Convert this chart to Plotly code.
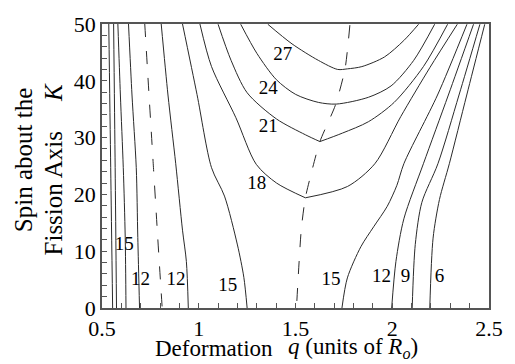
import plotly.graph_objects as go

# ---- contour lines: deformation q, spin K ----
q_left_a = [0.535, 0.545, 0.555]
K_left_a = [50, 24.7, 0]
q_left_b = [0.560, 0.568, 0.575]
K_left_b = [50, 24.7, 0]
q_left15 = [0.582, 0.595, 0.610, 0.620, 0.624]
K_left15 = [50, 37.5, 24.7, 12.4, 0]
q_left12 = [0.637, 0.655, 0.677, 0.685, 0.694]
K_left12 = [50, 37.5, 24.7, 12.4, 0]
q_dash_left = [0.721, 0.743, 0.766, 0.788, 0.811]
K_dash_left = [50, 37.5, 24.7, 12.4, 0]
q_mid12 = [0.806, 0.841, 0.881, 0.916, 0.936, 0.946]
K_mid12 = [50, 37.5, 25.4, 13.7, 8.2, 0]
q_mid15 = [0.916, 0.991, 1.066, 1.133, 1.200, 1.233, 1.250]
K_mid15 = [50, 37.6, 24.7, 19.7, 11.1, 5.4, 0]
q_c18_l = [1.006, 1.066, 1.192, 1.297, 1.402, 1.551]
K_c18_l = [50, 42.5, 33.5, 25.3, 22.0, 19.4]
q_c18_r = [1.551, 1.769, 1.910, 2.044, 2.194, 2.336]
K_c18_r = [19.4, 21.4, 25.4, 33.7, 42.3, 49.95]
q_c21_l = [1.100, 1.167, 1.250, 1.401, 1.551, 1.626]
K_c21_l = [49.95, 43.6, 37.9, 33.3, 30.5, 29.3]
q_c21_r = [1.626, 1.743, 1.877, 2.010, 2.161, 2.286]
K_c21_r = [29.3, 30.8, 32.8, 36.2, 42.5, 49.95]
q_c24 = [1.217, 1.301, 1.401, 1.501, 1.618, 1.710, 1.877, 1.994, 2.111, 2.219]
K_c24 = [49.95, 44.8, 40.2, 37.6, 36.2, 35.9, 37.1, 39.1, 43.6, 49.95]
q_c27 = [1.357, 1.482, 1.618, 1.718, 1.768, 1.843, 1.960, 2.060, 2.136]
K_c27 = [49.95, 46.5, 43.6, 42.0, 42.1, 42.5, 44.2, 47.1, 49.95]
q_right15 = [1.740, 1.768, 1.838, 1.904, 1.974, 2.024, 2.060, 2.234, 2.386]
K_right15 = [0, 5.3, 10.8, 14.3, 17.9, 21.6, 25.4, 37.5, 49.95]
q_right12 = [1.997, 2.019, 2.060, 2.161, 2.290, 2.420]
K_right12 = [0, 8.2, 15.7, 25.4, 37.5, 49.95]
q_right9 = [2.103, 2.119, 2.153, 2.236, 2.345, 2.453]
K_right9 = [0, 11.2, 18.6, 25.4, 37.5, 49.95]
q_right6 = [2.194, 2.211, 2.244, 2.295, 2.385, 2.478]
K_right6 = [0, 12.3, 19.1, 25.4, 37.5, 49.95]
q_dash_mid = [1.781, 1.756, 1.706, 1.626, 1.585, 1.551, 1.530, 1.505]
K_dash_mid = [49.8, 42.1, 35.7, 29.3, 24.2, 19.4, 13.9, 0]

label_text = ["27", "24", "21", "18", "15", "12", "12", "15", "15", "12", "9", "6"]
label_q = [1.434, 1.359, 1.359, 1.300, 0.615, 0.699, 0.882, 1.150, 1.684, 1.944, 2.069, 2.244]
label_K = [44.5, 38.5, 31.9, 21.7, 11.1, 4.8, 4.8, 3.8, 4.9, 5.4, 5.4, 5.4]

x_tickvals = [0.5, 1, 1.5, 2, 2.5]
x_ticktext = ["0.5", "1", "1.5", "2", "2.5"]
y_tickvals = [0, 10, 20, 30, 40, 50]

LINE = "#2a2a2a"
FONT = "Liberation Serif"

solid = [
    (q_left_a, K_left_a), (q_left_b, K_left_b), (q_left15, K_left15),
    (q_left12, K_left12), (q_mid12, K_mid12), (q_mid15, K_mid15),
    (q_c18_l, K_c18_l), (q_c18_r, K_c18_r), (q_c21_l, K_c21_l), (q_c21_r, K_c21_r),
    (q_c24, K_c24), (q_c27, K_c27), (q_right15, K_right15), (q_right12, K_right12),
    (q_right9, K_right9), (q_right6, K_right6),
]
dashed = [(q_dash_left, K_dash_left), (q_dash_mid, K_dash_mid)]

fig = go.Figure()
for qs, ks in solid:
    fig.add_trace(go.Scatter(x=qs, y=ks, mode="lines",
                             line=dict(color=LINE, width=1, shape="spline", smoothing=0.8),
                             showlegend=False, hoverinfo="skip"))
for qs, ks in dashed:
    fig.add_trace(go.Scatter(x=qs, y=ks, mode="lines",
                             line=dict(color=LINE, width=1, dash="13px,14px", shape="spline", smoothing=0.6),
                             showlegend=False, hoverinfo="skip"))

fig.add_trace(go.Scatter(x=label_q, y=label_K, mode="text", text=label_text,
                         textfont=dict(family=FONT, size=19, color="black"),
                         showlegend=False, hoverinfo="skip"))

fig.update_xaxes(range=[0.5, 2.5], tickmode="array", tickvals=x_tickvals, ticktext=x_ticktext,
                 ticks="inside", ticklen=5, tickcolor="#555", showgrid=False, zeroline=False,
                 showline=True, linecolor="#555", linewidth=1.5, mirror=True,
                 ticklabeloverflow="allow",
                 minor=dict(tick0=0.5, dtick=0.1, ticks="inside", ticklen=5, tickcolor="#555", showgrid=False),
                 tickfont=dict(family=FONT, size=22, color="black"))
fig.update_yaxes(range=[0, 50], tickmode="array", tickvals=y_tickvals,
                 ticks="inside", ticklen=5, tickcolor="#555", showgrid=False, zeroline=False,
                 showline=True, linecolor="#555", linewidth=1.5, mirror=True,
                 ticklabeloverflow="allow",
                 minor=dict(tick0=0, dtick=2, ticks="inside", ticklen=5, tickcolor="#555", showgrid=False),
                 tickfont=dict(family=FONT, size=22, color="black"))

ann = [
    dict(text="Spin about the", x=-0.203, y=0.522, textangle=-90, font=dict(size=25)),
    dict(text="Fission Axis", x=-0.125, y=0.402, textangle=-90, font=dict(size=25)),
    dict(text="<i>K</i>", x=-0.125, y=0.759, textangle=-90, font=dict(size=25)),
    dict(text="Deformation", x=0.2895, y=-0.142, font=dict(size=23)),
    dict(text="<i>q</i> (units of <i>R</i><sub><i>o</i></sub>)", x=0.476, y=-0.142,
         xanchor="left", font=dict(size=23)),
]
for a in ann:
    a.setdefault("xanchor", "center")
    a["font"].update(family=FONT, color="black")
    fig.add_annotation(xref="paper", yref="paper", yanchor="middle", showarrow=False, **a)

fig.update_layout(width=515, height=364, margin=dict(l=102, r=14, t=17, b=56),
                  plot_bgcolor="white", paper_bgcolor="white",
                  font=dict(family=FONT, color="black"))

fig.write_html("out.html")
